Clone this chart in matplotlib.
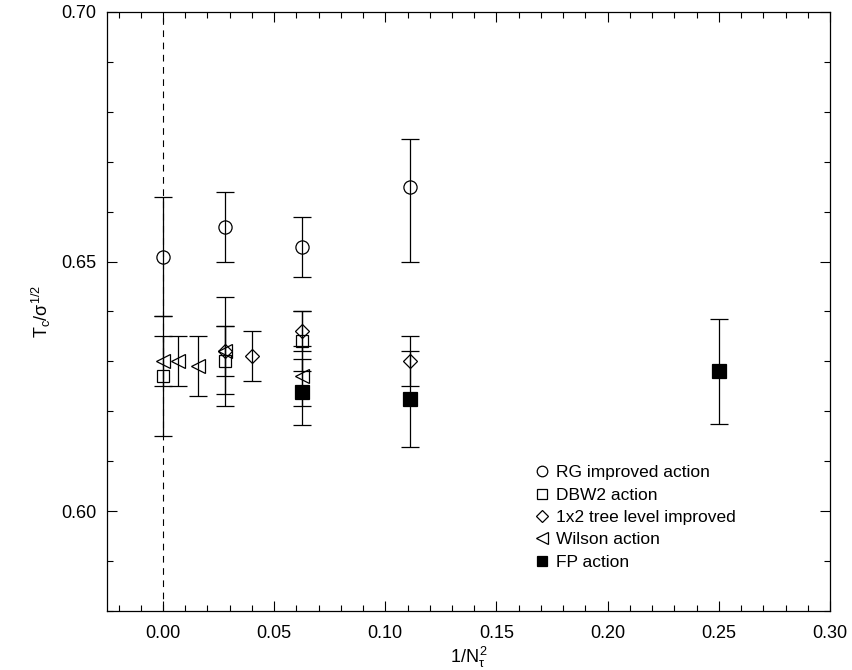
import matplotlib
matplotlib.use("Agg")
import matplotlib.pyplot as plt
from matplotlib.ticker import MultipleLocator, FormatStrFormatter

plt.rcParams['font.family'] = ['Liberation Sans', 'DejaVu Sans']
plt.rcParams['mathtext.fontset'] = 'custom'
plt.rcParams['mathtext.rm'] = 'Liberation Sans'
plt.rcParams['mathtext.it'] = 'Liberation Sans'

# RG improved action
rg_x = [0.0, 1/36, 1/16, 1/9]
rg_y = [0.651, 0.657, 0.653, 0.665]
rg_lo = [0.012, 0.007, 0.006, 0.015]
rg_hi = [0.012, 0.007, 0.006, 0.0095]

# DBW2 action
dbw_x = [0.0, 1/36, 1/16]
dbw_y = [0.627, 0.630, 0.634]
dbw_lo = [0.012, 0.009, 0.006]
dbw_hi = [0.012, 0.013, 0.006]

# 1x2 tree level improved
tree_x = [1/36, 1/25, 1/16, 1/9]
tree_y = [0.632, 0.631, 0.636, 0.630]
tree_err = [0.005, 0.005, 0.004, 0.005]

# Wilson action
wil_x = [0.0, 1/144, 1/64, 1/36, 1/16]
wil_y = [0.630, 0.630, 0.629, 0.632, 0.627]
wil_lo = [0.005, 0.005, 0.006, 0.0085, 0.006]
wil_hi = [0.005, 0.005, 0.006, 0.005, 0.006]

# FP action
fp_x = [1/16, 1/9, 1/4]
fp_y = [0.6238, 0.6224, 0.628]
fp_err = [0.0066, 0.0096, 0.0105]

labels = ["RG improved action", "DBW2 action", "1x2 tree level improved",
          "Wilson action", "FP action"]

fig = plt.figure(figsize=(8.53, 6.70), dpi=100)
ax = fig.add_axes([0.1259, 0.0881, 0.8471, 0.8940])

ax.axvline(0.0, color='k', lw=0.8, ls=(0, (6, 5)), zorder=1)

eb_kw = dict(fmt='none', ecolor='k', elinewidth=0.9, capsize=6.5, capthick=0.9, zorder=2)
ax.errorbar(rg_x, rg_y, yerr=[rg_lo, rg_hi], **eb_kw)
ax.errorbar(dbw_x, dbw_y, yerr=[dbw_lo, dbw_hi], **eb_kw)
ax.errorbar(tree_x, tree_y, yerr=tree_err, **eb_kw)
ax.errorbar(wil_x, wil_y, yerr=[wil_lo, wil_hi], **eb_kw)
ax.errorbar(fp_x, fp_y, yerr=fp_err, **eb_kw)

mk = dict(ls='none', markeredgecolor='k', markeredgewidth=0.9, zorder=3)
h1, = ax.plot(rg_x, rg_y, marker='o', ms=9.5, markerfacecolor='none', **mk)
h2, = ax.plot(dbw_x, dbw_y, marker='s', ms=9, markerfacecolor='none', **mk)
h3, = ax.plot(tree_x, tree_y, marker='D', ms=7.5, markerfacecolor='none', **mk)
h4, = ax.plot(wil_x, wil_y, marker='<', ms=10, markerfacecolor='none', **mk)
h5, = ax.plot(fp_x, fp_y, marker='s', ms=9.5, markerfacecolor='k', **mk)

ax.legend([h1, h2, h3, h4, h5], labels, loc='upper left',
          bbox_to_anchor=(0.592, 0.2437), frameon=False, fontsize=12.5,
          handlelength=0.8, handletextpad=0.4, labelspacing=0.42,
          borderpad=0, borderaxespad=0, markerscale=0.8)

ax.set_xlim(-0.025, 0.30)
ax.set_ylim(0.58, 0.70)
ax.xaxis.set_major_locator(MultipleLocator(0.05))
ax.xaxis.set_minor_locator(MultipleLocator(0.01))
ax.yaxis.set_major_locator(MultipleLocator(0.05))
ax.yaxis.set_minor_locator(MultipleLocator(0.01))
ax.xaxis.set_major_formatter(FormatStrFormatter('%.2f'))
ax.yaxis.set_major_formatter(FormatStrFormatter('%.2f'))
ax.tick_params(which='both', direction='in', top=True, right=True, labelsize=13, width=0.8)
ax.tick_params(which='major', length=7)
ax.tick_params(axis='x', which='major', pad=10)
ax.tick_params(axis='y', which='major', pad=8)
ax.tick_params(which='minor', length=4)
for s in ax.spines.values():
    s.set_linewidth(0.9)

ax.set_xlabel(r'$\mathrm{1/N_{\tau}^{\,2}}$', fontsize=13, labelpad=2)
ax.set_ylabel(r'$\mathrm{T_c/\sigma^{1/2}}$', fontsize=13, labelpad=6)

fig.savefig('out.png', dpi=100)
